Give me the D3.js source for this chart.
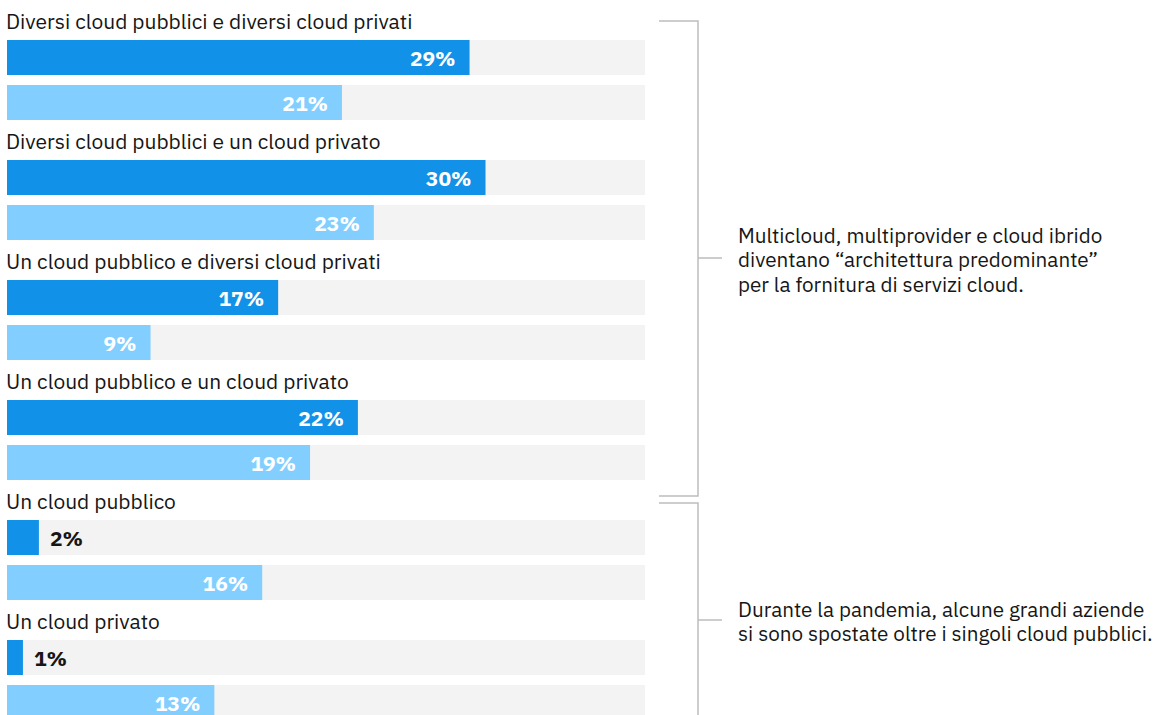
<!DOCTYPE html>
<html>
<head>
<meta charset="utf-8">
<script src="https://cdn.jsdelivr.net/npm/d3@7"></script>
<style>
  body { margin: 0; background: #fff; }
  svg { display: block; font-family: "IBM Plex Sans", "Noto Sans", sans-serif; }
</style>
</head>
<body>
<svg id="chart" width="1160" height="715"></svg>
<script>
const categories = [
  "Diversi cloud pubblici e diversi cloud privati",
  "Diversi cloud pubblici e un cloud privato",
  "Un cloud pubblico e diversi cloud privati",
  "Un cloud pubblico e un cloud privato",
  "Un cloud pubblico",
  "Un cloud privato"
];
const seriesA = [29, 30, 17, 22, 2, 1];
const seriesB = [21, 23, 9, 19, 16, 13];
const annotations = [
  { lines: ["Multicloud, multiprovider e cloud ibrido", "diventano \u201carchitettura predominante\u201d", "per la fornitura di servizi cloud."] },
  { lines: ["Durante la pandemia, alcune grandi aziende", "si sono spostate oltre i singoli cloud pubblici."] }
];

const svg = d3.select("#chart");
const x = d3.scaleLinear().domain([0, 40]).range([7, 645]);
const y = d3.scaleBand().domain(categories).range([0, 720]);
const barH = 35;
const colors = ["#1192e8", "#82cfff"];

const groups = svg.selectAll("g.grp")
  .data(categories.map((c, i) => ({ name: c, vals: [seriesA[i], seriesB[i]] })))
  .join("g")
  .attr("class", "grp")
  .attr("transform", d => `translate(0,${y(d.name)})`);

groups.append("text")
  .attr("x", 6)
  .attr("y", 29)
  .attr("fill", "#161616")
  .style("font-size", "21px")
  .text(d => d.name);

const bars = groups.selectAll("g.bar")
  .data(d => d.vals.map((v, k) => ({ v, k })))
  .join("g")
  .attr("class", "bar")
  .attr("transform", d => `translate(0,${40 + d.k * 45})`);

// track behind each bar
bars.append("rect")
  .attr("x", x(0))
  .attr("width", x(40) - x(0))
  .attr("height", barH)
  .attr("fill", "#f3f3f3");

bars.append("rect")
  .attr("x", x(0))
  .attr("width", d => x(d.v) - x(0))
  .attr("height", barH)
  .attr("fill", d => colors[d.k]);

bars.append("text")
  .attr("x", d => d.v < 5 ? x(d.v) + 11 : x(d.v) - 14)
  .attr("y", 26)
  .attr("text-anchor", d => d.v < 5 ? "start" : "end")
  .attr("fill", d => d.v < 5 ? "#161616" : "#fff")
  .style("font-size", "21px")
  .style("font-weight", "700")
  .text(d => d.v + "%");

// brackets
const bx = 698;
const brTop = [y(categories[0]) + 21, y(categories[4]) + 23];
const brBot = [y(categories[4]) + 16, 760];
const mids = [258, 620];

annotations.forEach((a, i) => {
  const g = svg.append("g");
  const p = d3.path();
  p.moveTo(659, brTop[i]); p.lineTo(bx, brTop[i]); p.lineTo(bx, brBot[i]);
  if (i === 0) p.lineTo(659, brBot[i]);
  p.moveTo(bx, mids[i]); p.lineTo(722, mids[i]);
  g.append("path")
    .attr("d", p.toString())
    .attr("fill", "none")
    .attr("stroke", "#bdbdbd")
    .attr("stroke-width", 1.5);
  const n = a.lines.length;
  g.append("text")
    .attr("fill", "#161616")
    .style("font-size", "20.7px")
    .selectAll("tspan")
    .data(a.lines)
    .join("tspan")
    .attr("x", 738)
    .attr("y", (d, j) => mids[i] + 9 + (j - (n - 1) / 2) * 24.5)
    .text(d => d);
});
</script>
</body>
</html>
